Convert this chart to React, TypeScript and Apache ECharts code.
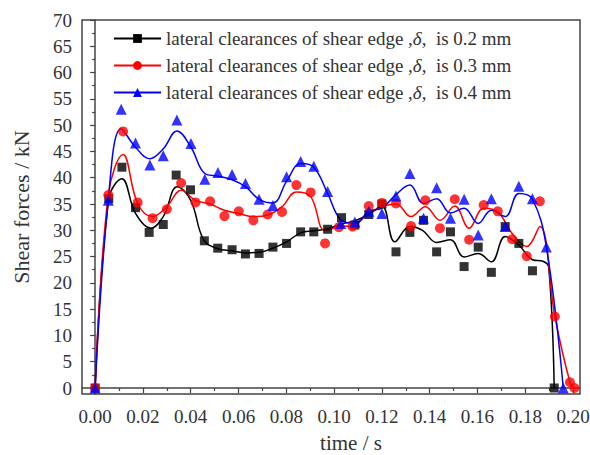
import React, { useEffect, useRef } from "react";
import * as echarts from "echarts";

// ---- data ----
const seriesNames = [
  "lateral clearances of shear edge ,δ,  is 0.2 mm",
  "lateral clearances of shear edge ,δ,  is 0.3 mm",
  "lateral clearances of shear edge ,δ,  is 0.4 mm",
];

// 0.2 mm (black squares)
const blackT = [0, 0.0057, 0.0112, 0.0169, 0.0226, 0.0285, 0.0339, 0.0399, 0.0457, 0.0513, 0.0573, 0.0629, 0.0686, 0.0744, 0.0801, 0.086, 0.0915, 0.0973, 0.1031, 0.1087, 0.1145, 0.12, 0.1259, 0.1317, 0.1374, 0.1429, 0.1487, 0.1544, 0.1603, 0.1658, 0.1716, 0.1773, 0.183, 0.1921];
const blackV = [0, 36.0, 42.0, 34.3, 29.6, 31.1, 40.5, 37.7, 28.0, 26.6, 26.3, 25.5, 25.6, 26.8, 27.5, 29.7, 29.7, 30.2, 32.4, 31.0, 33.0, 35.0, 25.9, 29.6, 31.9, 25.9, 29.7, 23.1, 26.8, 22.0, 30.7, 27.5, 22.3, 0];
const blackCurveT = [0, 0.0057, 0.0112, 0.0169, 0.0233, 0.0285, 0.0344, 0.04, 0.0454, 0.0513, 0.0573, 0.0629, 0.0686, 0.0744, 0.0801, 0.086, 0.0915, 0.0973, 0.1031, 0.1087, 0.1145, 0.12, 0.1254, 0.1317, 0.137, 0.1429, 0.1487, 0.1544, 0.1603, 0.1658, 0.1716, 0.1773, 0.183, 0.1874, 0.1898, 0.1921];
const blackCurveV = [0, 36, 39.8, 33.2, 30.4, 32.6, 38.3, 35.7, 28.2, 26.5, 26.1, 25.7, 25.8, 26.6, 27.8, 29.5, 29.9, 30.3, 31.2, 31.8, 33.0, 34.6, 27.8, 30.7, 30.0, 27.7, 28.2, 24.9, 25.6, 24.0, 28.8, 27.2, 24.4, 24.1, 23.0, 0];

// 0.3 mm (red circles)
const redT = [0, 0.0055, 0.0117, 0.0178, 0.024, 0.03, 0.036, 0.042, 0.0481, 0.0541, 0.0601, 0.0662, 0.0722, 0.0782, 0.0842, 0.0902, 0.0962, 0.102, 0.1077, 0.1145, 0.12, 0.1259, 0.1322, 0.1382, 0.1443, 0.1505, 0.1565, 0.1626, 0.1685, 0.1745, 0.1806, 0.1861, 0.1924, 0.1987, 0.2006];
const redV = [0, 36.7, 48.8, 35.3, 32.3, 34.0, 39.0, 35.3, 35.5, 32.7, 33.6, 31.9, 33.0, 33.5, 38.6, 37.2, 27.5, 30.6, 30.7, 34.6, 35.2, 35.1, 30.8, 35.7, 30.4, 35.9, 28.2, 34.8, 33.6, 28.3, 25.1, 35.5, 13.6, 1.1, 0];
const redCurveV = [0, 36.7, 44.4, 35.1, 32.6, 34.5, 37.6, 35.7, 35.0, 33.8, 33.2, 32.6, 32.9, 34.5, 37.3, 36.4, 30.0, 30.7, 30.9, 33.2, 34.5, 35.0, 32.6, 34.5, 31.9, 34.6, 30.4, 34.2, 33.5, 29.4, 26.9, 30.7, 13.6, 1.1, 0];

// 0.4 mm (blue triangles)
const blueT = [0, 0.0055, 0.0109, 0.0169, 0.0229, 0.0285, 0.0342, 0.0401, 0.0459, 0.0514, 0.0573, 0.0629, 0.0686, 0.0744, 0.0801, 0.086, 0.0915, 0.0973, 0.1028, 0.1087, 0.1145, 0.12, 0.1259, 0.1317, 0.1374, 0.1429, 0.1487, 0.1544, 0.1603, 0.1658, 0.1716, 0.1773, 0.183, 0.1888, 0.1959];
const blueV = [0, 35.7, 53.0, 46.6, 42.4, 44.2, 51.0, 46.5, 39.7, 41.0, 40.6, 38.9, 35.9, 34.7, 40.2, 43.1, 42.2, 37.4, 31.3, 31.6, 33.6, 33.2, 36.5, 40.8, 32.3, 38.1, 32.3, 35.9, 29.1, 36.0, 30.7, 38.4, 36.0, 26.8, 0];
const blueCurveV = [0, 35.7, 49.3, 45.8, 43.6, 45.5, 48.9, 45.8, 40.8, 40.3, 39.6, 38.3, 35.9, 35.2, 39.3, 42.7, 42.0, 37.0, 32.0, 31.3, 33.6, 34.2, 36.8, 38.6, 35.1, 36.0, 33.3, 34.2, 31.3, 33.8, 32.6, 37.0, 35.9, 26.9, 0];

// axis ticks
const xMajorTicks = [0, 0.02, 0.04, 0.06, 0.08, 0.1, 0.12, 0.14, 0.16, 0.18, 0.2];
const xMinorTicks = [0.01, 0.03, 0.05, 0.07, 0.09, 0.11, 0.13, 0.15, 0.17, 0.19];
const yMajorTicks = [0, 5, 10, 15, 20, 25, 30, 35, 40, 45, 50, 55, 60, 65, 70];
const yMinorTicks = [2.5, 7.5, 12.5, 17.5, 22.5, 27.5, 32.5, 37.5, 42.5, 47.5, 52.5, 57.5, 62.5, 67.5];

const colors = ["#000000", "#ff0000", "#0000ff"];
const symbols = ["rect", "circle", "triangle"];
const symbolSizes = [9, 10, 11];

const FONT = "'Liberation Serif', 'DejaVu Serif', serif";

const zip = (t: number[], v: (number | null)[]) => t.map((x, i) => [x, v[i]]);

export default function App() {
  const ref = useRef<HTMLDivElement>(null);

  useEffect(() => {
    if (!ref.current) return;
    const chart = echarts.init(ref.current, undefined, { renderer: "svg" });

    const curves = [
      zip(blackCurveT, blackCurveV),
      zip(redT, redCurveV),
      zip(blueT, blueCurveV),
    ];
    const markers = [zip(blackT, blackV), zip(redT, redV), zip(blueT, blueV)];

    const lineSeries = curves.map((d, i) => ({
      type: "line",
      name: seriesNames[i],
      data: d,
      smooth: 0.4,
      showSymbol: false,
      symbol: symbols[i],
      symbolSize: symbolSizes[i],
      lineStyle: { color: colors[i], width: 1.5 },
      itemStyle: { color: colors[i] },
      z: 2,
    }));
    const scatterSeries = markers.map((d, i) => ({
      type: "scatter",
      name: "m" + i,
      data: d,
      symbol: symbols[i],
      symbolSize: symbolSizes[i],
      itemStyle: { color: colors[i] },
      z: 3,
    }));

    const tickLabelStyle = {
      fontFamily: FONT,
      fontSize: 19,
      color: "#333",
    };

    chart.setOption({
      animation: false,
      backgroundColor: "#ffffff",
      grid: {
        left: 82,
        right: 10,
        top: 20,
        bottom: 61,
        show: true,
        borderColor: "#444",
        borderWidth: 1.5,
        containLabel: false,
        outerBoundsMode: "none",
      },
      legend: {
        data: seriesNames,
        orient: "vertical",
        left: 113,
        top: 29,
        padding: 0,
        itemWidth: 47,
        itemHeight: 11,
        itemGap: 8,
        formatter: (name: string) => {
          const parts = name.split("δ");
          return "{n|" + parts[0] + "}{i|δ}{n|" + parts[1] + "}";
        },
        textStyle: {
          fontFamily: FONT,
          fontSize: 19,
          color: "#333",
          rich: {
            n: { fontFamily: FONT, fontSize: 19, color: "#333" },
            i: { fontFamily: FONT, fontSize: 19, color: "#333", fontStyle: "italic" },
          },
        },
      },
      xAxis: [
        {
          type: "value",
          min: -0.0055,
          max: 0.2029,
          name: "time / s",
          nameLocation: "middle",
          nameGap: 38,
          nameTextStyle: {
            fontFamily: FONT,
            fontSize: 21,
            color: "#333",
            padding: [0, 0, 0, 40],
          },
          axisLine: { show: true, lineStyle: { color: "#444", width: 1.5 } },
          axisTick: {
            show: true,
            customValues: xMajorTicks,
            length: 5,
            lineStyle: { color: "#444", width: 1.2 },
          },
          axisLabel: {
            customValues: xMajorTicks,
            formatter: (v: number) => v.toFixed(2),
            margin: 13,
            ...tickLabelStyle,
          },
          splitLine: { show: false },
        },
        {
          type: "value",
          min: -0.0055,
          max: 0.2029,
          position: "bottom",
          axisLine: { show: false },
          axisTick: {
            show: true,
            customValues: xMinorTicks,
            length: 3,
            lineStyle: { color: "#444", width: 1.2 },
          },
          axisLabel: { show: false },
          splitLine: { show: false },
        },
      ],
      yAxis: [
        {
          type: "value",
          min: -1.14,
          max: 70,
          name: "Shear forces / kN",
          nameLocation: "middle",
          nameGap: 50,
          nameTextStyle: { fontFamily: FONT, fontSize: 22, color: "#333" },
          axisLine: { show: true, lineStyle: { color: "#444", width: 1.5 } },
          axisTick: {
            show: true,
            customValues: yMajorTicks,
            length: 5,
            lineStyle: { color: "#444", width: 1.2 },
          },
          axisLabel: {
            customValues: yMajorTicks,
            margin: 10,
            ...tickLabelStyle,
          },
          splitLine: { show: false },
        },
        {
          type: "value",
          min: -1.14,
          max: 70,
          position: "left",
          axisLine: { show: false },
          axisTick: {
            show: true,
            customValues: yMinorTicks,
            length: 3,
            lineStyle: { color: "#444", width: 1.2 },
          },
          axisLabel: { show: false },
          splitLine: { show: false },
        },
      ],
      series: [...lineSeries, ...scatterSeries],
    });

    return () => chart.dispose();
  }, []);

  return <div ref={ref} style={{ width: 590, height: 455, position: "absolute", left: 0, top: 0 }} />;
}
